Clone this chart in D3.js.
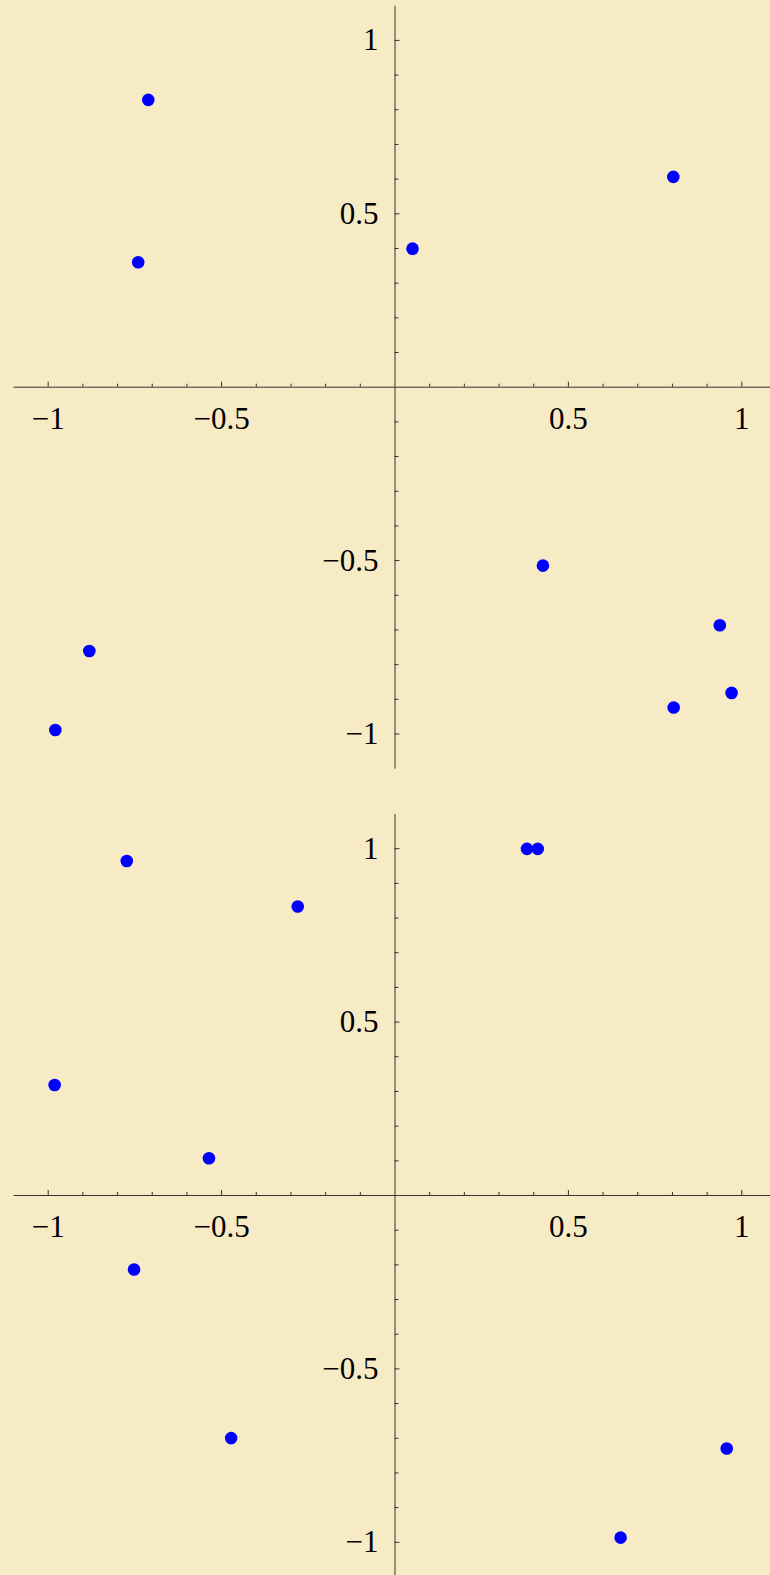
<!DOCTYPE html>
<html>
<head>
<meta charset="utf-8">
<script src="https://cdn.jsdelivr.net/npm/d3@7"></script>
<style>
  html, body { margin: 0; padding: 0; background: #f7ebc6; }
  svg { display: block; }
</style>
</head>
<body>
<div class="canvas"></div>
<script>
const dims = { width: 770, height: 1575 };

// top panel points
const topX = [-0.710, -0.739, 0.052, 0.804, 0.428, 0.938, 0.972, 0.805, -0.880, -0.978];
const topY = [0.827, 0.359, 0.398, 0.605, -0.516, -0.688, -0.883, -0.925, -0.762, -0.990];

// bottom panel points
const botX = [-0.772, -0.279, -0.980, -0.535, 0.382, 0.413, -0.751, -0.471, 0.958, 0.652];
const botY = [0.963, 0.832, 0.317, 0.106, 0.998, 0.998, -0.215, -0.701, -0.731, -0.988];

const majorTicks = [-1, -0.5, 0.5, 1];
const minorTicks = [-0.9, -0.8, -0.7, -0.6, -0.4, -0.3, -0.2, -0.1,
                    0.1, 0.2, 0.3, 0.4, 0.6, 0.7, 0.8, 0.9];
const domain = [-1.1, 1.1];

const fmt = d => (d < 0 ? '\u2212' : '') + Math.abs(d);

const svg = d3.select('.canvas')
  .append('svg')
  .attr('width', dims.width)
  .attr('height', dims.height);

svg.append('rect')
  .attr('width', dims.width)
  .attr('height', dims.height)
  .attr('fill', '#f7ebc6');

const unit = 346.8;

// style axis lines + labels
const styleAxis = a => {
  a.selectAll('path, line').attr('stroke', '#333').attr('stroke-width', 1);
  a.selectAll('text')
    .style('font-family', '"Liberation Serif", serif')
    .style('font-size', '31px')
    .attr('fill', '#000');
};

const panels = [
  { xs: topX, ys: topY, cx: 394.5, cy: 386.7 },
  { xs: botX, ys: botY, cx: 394.5, cy: 1195 }
];

panels.forEach(p => {
  const x = d3.scaleLinear().domain(domain).range([p.cx - 1.1 * unit, p.cx + 1.1 * unit]);
  const y = d3.scaleLinear().domain(domain).range([p.cy + 1.1 * unit, p.cy - 1.1 * unit]);

  const g = svg.append('g');

  // x axis, minor ticks
  g.append('g')
    .attr('transform', `translate(0, ${y(0)})`)
    .call(d3.axisBottom(x).tickValues(minorTicks).tickSizeInner(-3).tickSizeOuter(0).tickFormat(''))
    .call(styleAxis);

  // x axis, major ticks with labels
  g.append('g')
    .attr('transform', `translate(0, ${y(0)})`)
    .call(d3.axisBottom(x).tickValues(majorTicks).tickSizeInner(-5).tickSizeOuter(0).tickPadding(20).tickFormat(fmt))
    .call(a => a.select('.domain').remove())
    .call(styleAxis);

  // y axis, minor ticks
  g.append('g')
    .attr('transform', `translate(${x(0)}, 0)`)
    .call(d3.axisLeft(y).tickValues(minorTicks).tickSizeInner(-4).tickSizeOuter(0).tickFormat(''))
    .call(styleAxis);

  // y axis, major ticks with labels
  g.append('g')
    .attr('transform', `translate(${x(0)}, 0)`)
    .call(d3.axisLeft(y).tickValues(majorTicks).tickSizeInner(-5).tickSizeOuter(0).tickPadding(16).tickFormat(fmt))
    .call(a => a.select('.domain').remove())
    .call(styleAxis);

  g.selectAll('circle')
    .data(d3.zip(p.xs, p.ys))
    .enter()
    .append('circle')
    .attr('cx', d => x(d[0]))
    .attr('cy', d => y(d[1]))
    .attr('r', 6.3)
    .attr('fill', '#0000ff');
});
</script>
</body>
</html>
